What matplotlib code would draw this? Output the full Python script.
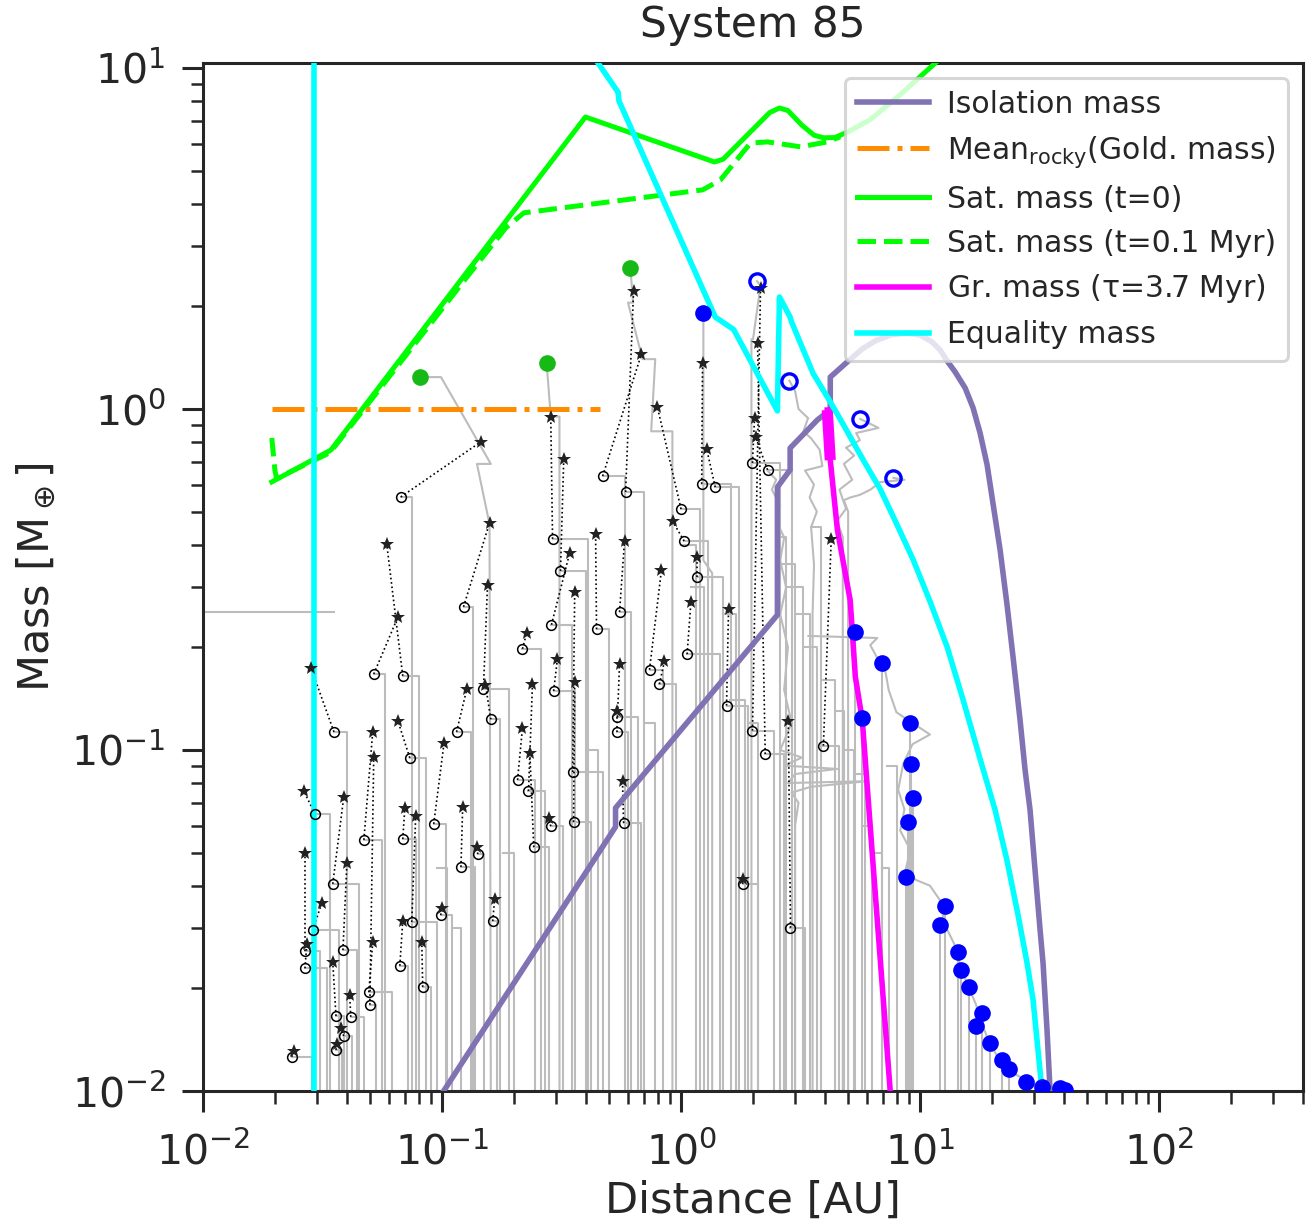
import matplotlib
matplotlib.use("Agg")
import matplotlib.pyplot as plt

ink = '#262626'
plt.rcParams['font.family'] = ['DejaVu Sans']
plt.rcParams['mathtext.default'] = 'regular'
plt.rcParams.update({'text.color': ink, 'axes.labelcolor': ink, 'xtick.color': ink,
                     'ytick.color': ink, 'axes.edgecolor': ink})

m_floor = 0.01

# characteristic masses [M_earth] vs distance [AU]
iso_x = [0.1016, 0.532, 0.532, 2.53, 2.53, 2.86, 2.86, 3.72, 4.21, 4.21, 4.96, 5.73, 6.49, 7.50,
         8.83, 10.01, 11.23, 12.13, 12.98, 14.02, 15.44, 16.67, 17.83, 19.08, 20.21, 21.62,
         23.12, 24.49, 26.20, 27.50, 28.85, 30.27, 31.77, 32.70, 33.97, 34.99]
iso_m = [0.0100, 0.0595, 0.0676, 0.249, 0.590, 0.663, 0.768, 0.929, 0.993, 1.24, 1.374, 1.500, 1.583,
         1.648, 1.671, 1.648, 1.572, 1.489, 1.383, 1.284, 1.152, 1.007, 0.850, 0.685, 0.526, 0.386,
         0.266, 0.1874, 0.1225, 0.0874, 0.0667, 0.0445, 0.0297, 0.0237, 0.0151, 0.0100]
gold_x = [0.0194, 0.46]
gold_m = [1.0, 1.0]
sat0_x = [0.0194, 0.0343, 0.398, 1.38, 1.5, 2.35, 2.58, 2.8, 3.2, 3.6, 3.94, 4.4, 5.0, 6.18, 8.26, 11.6, 13.4]
sat0_m = [0.611, 0.758, 7.18, 5.30, 5.4, 7.4, 7.63, 7.5, 6.8, 6.35, 6.24, 6.25, 6.5, 7.05, 8.35, 10.35, 11.3]
sat1_x = [0.0194, 0.0200, 0.0203, 0.034, 0.132, 0.185, 0.22, 1.23, 1.46, 1.95, 2.3, 3.16, 4.09, 4.63]
sat1_m = [0.822, 0.66, 0.625, 0.745, 2.52, 3.40, 3.76, 4.39, 4.69, 6.02, 6.07, 5.87, 6.07, 6.28]
gr_x = [4.09, 4.21, 4.51, 5.10, 5.36, 5.73, 6.37, 7.50]
gr_m = [0.993, 0.708, 0.442, 0.275, 0.164, 0.1225, 0.0454, 0.0100]
gr_fast_x = [4.09, 4.21]
gr_fast_m = [0.993, 0.708]
eq_x = [0.427, 0.537, 0.545, 0.55, 1.39, 1.66, 2.53, 2.58, 2.86, 2.9, 3.57, 4.21, 4.86, 5.78, 6.81,
        7.95, 9.36, 11.02, 12.98, 15.14, 17.83, 20.60, 23.12, 25.70, 28.04, 29.70, 30.85, 32.37]
eq_m = [10.9, 8.62, 8.5, 8.0, 1.86, 1.71, 0.987, 2.13, 1.86, 1.80, 1.27, 1.05, 0.880, 0.709, 0.582,
        0.463, 0.361, 0.272, 0.2005, 0.1402, 0.0941, 0.0667, 0.0473, 0.0328, 0.0237, 0.0185,
        0.01411, 0.0100]
eq_inner_x = [0.0291, 0.0291]
eq_inner_m = [0.01, 12.0]

# embryos: position at disc dispersal (circles) and final (stars)
circ_x = [0.0672, 0.123, 0.160, 0.149, 0.0518, 0.0685, 0.0353, 0.0471, 0.0499, 0.0494,
          0.0733, 0.0923, 0.115, 0.120, 0.141, 0.0294, 0.0267, 0.0267, 0.0349, 0.0385,
          0.0288, 0.0360, 0.0415, 0.0388, 0.0360, 0.0235, 0.0666, 0.0830, 0.0685, 0.0747,
          0.0988, 0.163, 0.217, 0.230, 0.207, 0.242, 0.293, 0.285, 0.355, 0.352,
          0.290, 0.313, 0.287, 0.443, 0.586, 0.470, 0.553, 1.00, 1.03, 0.738,
          0.812, 1.22, 1.39, 1.17, 1.06, 1.55, 0.542, 0.537, 0.575, 1.99,
          2.30, 1.99, 2.25, 2.87, 3.94, 1.81]
circ_m = [0.552, 0.263, 0.123, 0.151, 0.167, 0.165, 0.113, 0.0545, 0.0179, 0.0195,
          0.0948, 0.0607, 0.113, 0.0454, 0.0495, 0.0649, 0.0257, 0.0229, 0.0405, 0.0259,
          0.0297, 0.0166, 0.0165, 0.0145, 0.0132, 0.0126, 0.0233, 0.0202, 0.0548, 0.0313,
          0.0328, 0.0315, 0.198, 0.0758, 0.0817, 0.0519, 0.149, 0.0598, 0.0615, 0.0862,
          0.416, 0.335, 0.233, 0.226, 0.571, 0.636, 0.254, 0.509, 0.410, 0.172,
          0.156, 0.603, 0.590, 0.322, 0.191, 0.135, 0.125, 0.113, 0.0611, 0.695,
          0.663, 0.114, 0.0973, 0.0301, 0.103, 0.0405]
star_x = [0.145, 0.158, 0.152, 0.155, 0.0653, 0.0587, 0.0283, 0.0513, 0.0518, 0.0513,
          0.0653, 0.102, 0.127, 0.122, 0.140, 0.0264, 0.0267, 0.0272, 0.0388, 0.0400,
          0.0314, 0.0349, 0.0411, 0.0377, 0.0363, 0.0240, 0.0685, 0.0823, 0.0699, 0.0776,
          0.0997, 0.166, 0.226, 0.239, 0.217, 0.233, 0.304, 0.279, 0.359, 0.359,
          0.285, 0.323, 0.342, 0.439, 0.633, 0.683, 0.580, 0.797, 0.921, 0.828,
          0.852, 1.23, 1.28, 1.17, 1.10, 1.58, 0.553, 0.537, 0.569, 2.03,
          2.05, 2.15, 2.09, 2.81, 4.25, 1.82]
star_m = [0.800, 0.463, 0.155, 0.305, 0.245, 0.402, 0.174, 0.113, 0.0954, 0.0273,
          0.122, 0.105, 0.151, 0.0681, 0.0519, 0.0758, 0.0499, 0.0270, 0.0728, 0.0466,
          0.0356, 0.0239, 0.0191, 0.0153, 0.0137, 0.0131, 0.0315, 0.0273, 0.0676, 0.0640,
          0.0344, 0.0366, 0.220, 0.156, 0.116, 0.0980, 0.185, 0.0632, 0.158, 0.291,
          0.947, 0.713, 0.378, 0.430, 2.22, 1.45, 0.410, 1.01, 0.469, 0.337,
          0.182, 1.36, 0.763, 0.368, 0.272, 0.259, 0.179, 0.130, 0.0811, 0.941,
          0.828, 2.26, 1.56, 0.122, 0.416, 0.0418]
track_start = [0.075, 0.135, 0.175, 0.19, 0.058, 0.080, 0.040, 0.056, 0.053, 0.062,
               0.086, 0.104, 0.132, 0.138, 0.150, 0.034, 0.031, 0.033, 0.045, 0.044,
               0.037, 0.039, 0.047, 0.042, 0.038, 0.0285, 0.072, 0.090, 0.078, 0.095,
               0.110, 0.170, 0.26, 0.27, 0.245, 0.28, 0.36, 0.32, 0.42, 0.47,
               0.41, 0.40, 0.35, 0.50, 0.70, 0.58, 0.62, 1.20, 1.30, 0.84,
               0.95, 1.62, 1.75, 1.50, 1.45, 1.90, 0.66, 0.60, 0.68, 2.6,
               2.9, 2.45, 2.7, 3.3, 4.6, 2.1]

# final planets
green_x = [0.0807, 0.274, 0.614]
green_m = [1.24, 1.36, 2.59]
blue_x = [1.24, 5.36, 6.95, 5.73, 9.10, 9.19, 9.36, 8.92, 8.75, 12.7, 12.1, 14.4, 14.9, 16.0,
          18.2, 17.2, 19.6, 22.0, 23.6, 27.7, 32.4, 38.5, 40.3]
blue_m = [1.91, 0.222, 0.180, 0.124, 0.120, 0.091, 0.0723, 0.0615, 0.0424, 0.0349, 0.0307, 0.0256,
          0.0227, 0.0202, 0.0169, 0.0155, 0.0138, 0.0123, 0.0116, 0.0106, 0.0103, 0.0102, 0.0101]
blue_open_x = [2.08, 2.84, 5.62, 7.73]
blue_open_m = [2.37, 1.21, 0.935, 0.628]

# extra growth tracks without a surviving marker
extra_x = [0.105, 0.12, 0.2, 0.45, 0.78, 1.15, 1.25, 1.7, 1.85, 2.1, 2.75, 3.0, 3.25, 3.45, 3.7,
           3.85, 4.4, 4.8, 5.3, 5.9, 6.3, 6.9, 7.4, 8.0]
extra_top = [0.045, 0.03, 0.05, 0.1, 0.12, 0.40, 0.3, 0.25, 0.14, 0.12, 0.42, 0.35, 0.30, 0.25, 0.20,
             0.45, 0.16, 0.13, 0.10, 0.085, 0.06, 0.05, 0.045, 0.09]
extra_end = [0.095, 0.11, 0.18, 0.4, 0.7, 1.0, 1.1, 1.5, 1.6, 1.9, 2.5, 2.6, 2.8, 3.0, 3.3,
             3.5, 3.9, 4.4, 4.8, 5.3, 5.8, 6.3, 6.9, 7.3]

# scattered / migrating tracks
w1_x = [3.41, 6.62, 6.19, 6.68, 7.17, 7.39, 7.96, 11.0, 9.3, 8.5, 8.1, 8.6, 8.26, 9.1, 8.7, 9.6,
        11.0, 12.1, 12.7, 14.0, 14.7, 15.8, 17.1, 18.2, 19.6, 21.6, 25.0, 30.3, 40.4]
w1_m = [0.216, 0.213, 0.203, 0.184, 0.169, 0.150, 0.129, 0.111, 0.104, 0.091, 0.0764, 0.067, 0.058,
        0.051, 0.0445, 0.0416, 0.040, 0.0363, 0.0307, 0.0267, 0.0234, 0.0205, 0.018, 0.0157,
        0.0137, 0.0123, 0.0112, 0.0104, 0.0100]
w2_x = [5.62, 6.7, 5.4, 5.6, 4.9, 5.3, 4.8, 5.2, 4.6, 4.9, 4.5, 4.75, 4.75]
w2_m = [0.935, 0.88, 0.85, 0.81, 0.77, 0.73, 0.69, 0.62, 0.58, 0.51, 0.47, 0.42, 0.01]
w3_x = [7.73, 8.6, 6.8, 6.2, 5.6, 5.1, 4.8, 5.0, 5.0]
w3_m = [0.628, 0.62, 0.61, 0.58, 0.56, 0.55, 0.54, 0.50, 0.01]
w4_x = [2.84, 3.0, 3.1, 3.4, 3.25, 3.5, 3.8, 3.9, 3.3, 3.6, 3.45, 3.7, 3.5, 3.6, 3.55, 3.55]
w4_m = [1.21, 1.13, 1.0, 0.94, 0.86, 0.82, 0.76, 0.68, 0.66, 0.60, 0.55, 0.5, 0.45, 0.35, 0.25, 0.01]
w5_x = [2.30, 2.5, 2.4, 2.6, 2.5, 2.7, 2.6, 2.75, 2.6, 2.8, 2.7, 2.9, 2.6, 3.2, 2.7, 4.5, 3.0, 2.8,
        6.0, 3.5, 2.9, 3.1, 3.0, 3.0]
w5_m = [0.66, 0.62, 0.58, 0.52, 0.47, 0.42, 0.36, 0.30, 0.25, 0.20, 0.15, 0.12, 0.10, 0.095, 0.09,
        0.088, 0.085, 0.08, 0.081, 0.078, 0.075, 0.07, 0.06, 0.01]
g1_x = [0.0807, 0.099, 0.160, 0.140, 0.158, 0.16]
g1_m = [1.24, 1.24, 0.69, 0.69, 0.46, 0.01]
g2_x = [0.274, 0.285, 0.31, 0.31]
g2_m = [1.36, 0.95, 0.95, 0.01]
g3_x = [0.614, 0.63, 0.60, 0.69, 0.78, 0.75, 0.92, 0.92]
g3_m = [2.59, 2.05, 2.05, 1.40, 1.40, 0.86, 0.86, 0.01]
b1_x = [1.24, 1.24, 1.35, 1.35]
b1_m = [1.91, 0.36, 0.33, 0.01]
b2_x = [2.08, 2.15, 2.0, 1.97, 1.97]
b2_m = [2.37, 2.3, 1.6, 1.6, 0.01]
inner_x = [0.01, 0.0353]
inner_m = [0.254, 0.254]

grey = '#bcbcbc'
fig = plt.figure(figsize=(13.12, 12.30), dpi=100)
ax = fig.add_axes([0.15473, 0.11301, 0.83841, 0.83577])
ax.set_xscale('log')
ax.set_yscale('log')

tk = dict(color=grey, lw=1.5, zorder=1)
for cx, cm, sx in zip(circ_x, circ_m, track_start):
    ax.plot([cx, sx, sx], [cm, cm, m_floor], **tk)
for ex, et, ee in zip(extra_x, extra_top, extra_end):
    ax.plot([ee, ex, ex], [et, et, m_floor], **tk)
for bx, bm in zip(blue_x[1:], blue_m[1:]):
    ax.plot([bx, bx], [bm, m_floor], **tk)
for px, pm in [(w1_x, w1_m), (w2_x, w2_m), (w3_x, w3_m), (w4_x, w4_m), (w5_x, w5_m),
               (g1_x, g1_m), (g2_x, g2_m), (g3_x, g3_m), (b1_x, b1_m), (b2_x, b2_m),
               (inner_x, inner_m)]:
    ax.plot(px, pm, **tk)

for cx, cm, sx, sm in zip(circ_x, circ_m, star_x, star_m):
    ax.plot([cx, sx], [cm, sm], ls=':', color='k', lw=1.2, zorder=2)

ax.plot(iso_x, iso_m, color='#8172B3', lw=4, zorder=3, label='Isolation mass')
ax.plot(gold_x, gold_m, color='#FF8C00', lw=3.6, ls='-.', zorder=3,
        label=r'Mean$_{\rm rocky}$(Gold. mass)')
ax.plot(sat0_x, sat0_m, color='#00FF00', lw=3.6, zorder=3, label='Sat. mass (t=0)')
ax.plot(sat1_x, sat1_m, color='#00FF00', lw=3.6, ls='--', zorder=3, label='Sat. mass (t=0.1 Myr)')
ax.plot(gr_x, gr_m, color='#FF00FF', lw=4, zorder=3, label=r'Gr. mass ($\tau$=3.7 Myr)')
ax.plot(gr_fast_x, gr_fast_m, color='#FF00FF', lw=8, zorder=3, solid_capstyle='butt')
ax.plot(eq_x, eq_m, color='#00FFFF', lw=4, zorder=3, label='Equality mass')
ax.plot(eq_inner_x, eq_inner_m, color='#00FFFF', lw=4, zorder=3)

ax.plot(circ_x, circ_m, 'o', ms=7, mfc='none', mec='k', mew=1.1, zorder=4)
ax.plot(star_x, star_m, '*', ms=10, color='#222222', mew=0, zorder=4)
ax.plot(green_x, green_m, 'o', ms=12, color='#16b916', mew=0, zorder=4)
ax.plot(blue_x, blue_m, 'o', ms=12, color='#0000FF', mew=0, zorder=4)
ax.plot(blue_open_x, blue_open_m, 'o', ms=11, mfc='none', mec='#0000FF', mew=2.4, zorder=4)

ax.set_xlim(0.01, 400)
ax.set_ylim(0.01, 10.34)
ax.set_title('System 85', fontsize=30.5, pad=19)
ax.set_xlabel('Distance [AU]', fontsize=31, labelpad=4)
ax.set_ylabel(r'Mass [M$_\oplus$]', fontsize=31, labelpad=10)

for s in ax.spines.values():
    s.set_linewidth(2.2)
ax.tick_params(which='major', length=15, width=2.2, labelsize=29.5)
ax.tick_params(axis='x', which='major', pad=15)
ax.tick_params(axis='y', which='major', pad=12)
ax.tick_params(which='minor', length=9, width=1.8)

leg = ax.legend(loc='upper right', fontsize=21.5, handlelength=2.4, handletextpad=0.6,
                framealpha=0.8)
leg.get_frame().set_edgecolor('0.8')
leg.get_frame().set_linewidth(2.2)

fig.savefig('out.png', dpi=100)
